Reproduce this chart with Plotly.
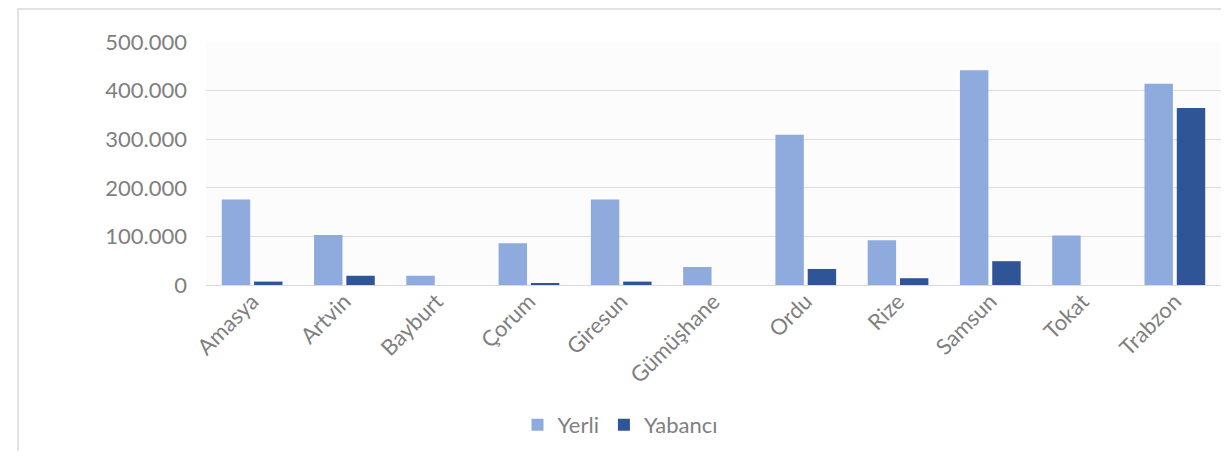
import plotly.graph_objects as go

categories = ["Amasya", "Artvin", "Bayburt", "Çorum", "Giresun", "Gümüşhane",
              "Ordu", "Rize", "Samsun", "Tokat", "Trabzon"]
yerli = [176000, 103000, 19000, 86000, 176000, 37000, 309000, 92000, 442000, 102000, 414000]
yabanci = [7000, 19000, 0, 4000, 7000, 0, 33000, 14000, 49000, 0, 364000]
y_ticks = [0, 100000, 200000, 300000, 400000, 500000]

FONT = "Lato, 'Open Sans', sans-serif"
GRAY = "#7f7f7f"

fig = go.Figure()
fig.add_trace(go.Bar(name="Yerli", x=categories, y=yerli, marker_color="#8faadc",
                     marker_line_width=0))
fig.add_trace(go.Bar(name="Yabancı", x=categories, y=yabanci, marker_color="#2f5597",
                     marker_line_width=0))

OFF = 8  # page body margin
W, H = 1229 - OFF, 459 - 2 * OFF
ml, mr, mt, mb = 206 - OFF, W - (1221 - OFF), 42 - OFF, H - (285 - OFF)
pw, ph = W - ml - mr, H - mt - mb

def px_x(p):
    return (p - OFF - ml) / pw

def px_y(p):
    return (H - mb - (p - OFF)) / ph

fig.update_layout(
    width=W, height=H,
    margin=dict(l=ml, r=mr, t=mt, b=mb, autoexpand=False),
    paper_bgcolor="white",
    plot_bgcolor="#fcfcfc",
    barmode="group",
    bargap=0.3,
    bargroupgap=0.12,
    separators=",.",
    font=dict(family=FONT, color=GRAY, size=22),
    showlegend=True,
    legend=dict(orientation="h", x=px_x(620), xanchor="center", y=px_y(425),
                yanchor="middle", font=dict(size=22, color=GRAY),
                itemwidth=30, traceorder="normal"),
    xaxis=dict(tickangle=-45, showgrid=False, showline=True, linecolor="#d9d9d9",
               linewidth=1, ticks="", tickfont=dict(size=22, color=GRAY),
               automargin=False, ticklabelstandoff=-6),
    yaxis=dict(range=[0, 500000], tickvals=y_ticks, tickformat=",d",
               showgrid=True, gridcolor="#dedede", gridwidth=1, zeroline=False,
               showline=False, ticks="", tickfont=dict(size=22, color=GRAY),
               ticklabelstandoff=18, automargin=False),
    shapes=[dict(type="rect", xref="paper", yref="paper",
                 x0=px_x(18), x1=px_x(1224), y0=px_y(470), y1=px_y(9),
                 line=dict(color="#d9d9d9", width=1.5), layer="below")],
)

fig.write_html("out.html")
